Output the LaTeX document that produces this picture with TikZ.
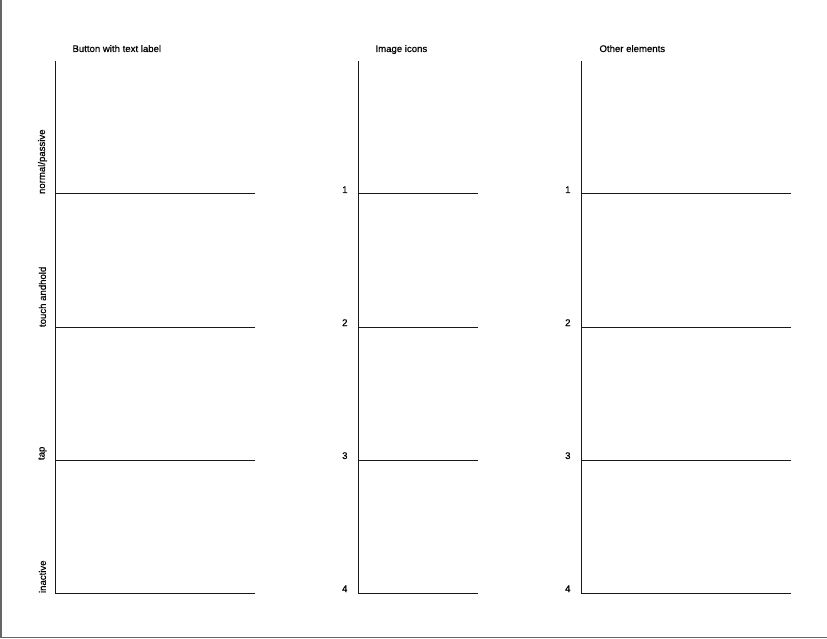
\documentclass[tikz,border=0pt]{standalone}
\usepackage{fontspec}
\setmainfont{Liberation Sans}[FakeBold=0.6]

\begin{document}
\begin{tikzpicture}[x=1pt, y=-1pt, line width=1pt,
	title/.style = {anchor=base west, inner sep=0, font=\fontsize{9.6}{11}\selectfont},
	rowlabel/.style = {rotate=90, anchor=west, inner sep=0, font=\fontsize{9.6}{11}\selectfont},
	num/.style = {anchor=base east, inner sep=0, font=\fontsize{9.6}{11}\selectfont},
	rule/.style = {draw, black!90}]
	\useasboundingbox (0,0) rectangle (827,639);
	\draw[gray!80!black, line width=1.6pt] (1,0) -- (1,637.5) -- (827,637.5);

	\node[title] (t1) at (72,52) {Button with text label};
	\node[title] (t2) at (375,52) {Image icons};
	\node[title] (t3) at (599,52) {Other elements};

	% first column
	\draw[rule] (55,61) -- (55,593);
	\draw[rule] (55,194) -- (255,194);
	\draw[rule] (55,327) -- (255,327);
	\draw[rule] (55,460) -- (255,460);
	\draw[rule] (55,593) -- (255,593);
	\node[rowlabel] (r1) at (42.5,194.5) {normal/passive};
	\node[rowlabel] (r2) at (42.5,327.5) {touch andhold};
	\node[rowlabel] (r3) at (42.5,460.5) {tap};
	\node[rowlabel] (r4) at (42.5,593.5) {inactive};

	% second column
	\draw[rule] (358,61) -- (358,593);
	\draw[rule] (358,194) -- (478,194);
	\draw[rule] (358,327) -- (478,327);
	\draw[rule] (358,460) -- (478,460);
	\draw[rule] (358,593) -- (478,593);
	\node[num] (a1) at (348,193) {1};
	\node[num] (a2) at (348,326) {2};
	\node[num] (a3) at (348,459) {3};
	\node[num] (a4) at (348,592) {4};

	% third column
	\draw[rule] (581,61) -- (581,593);
	\draw[rule] (581,194) -- (791,194);
	\draw[rule] (581,327) -- (791,327);
	\draw[rule] (581,460) -- (791,460);
	\draw[rule] (581,593) -- (791,593);
	\node[num] (b1) at (571,193) {1};
	\node[num] (b2) at (571,326) {2};
	\node[num] (b3) at (571,459) {3};
	\node[num] (b4) at (571,592) {4};
\end{tikzpicture}
\end{document}
